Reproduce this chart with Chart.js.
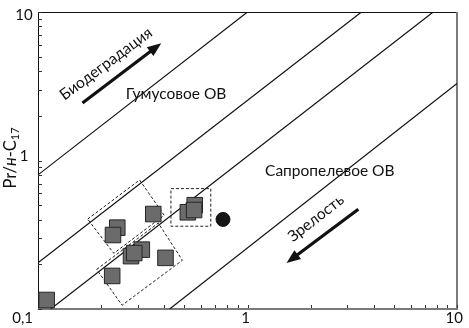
<!DOCTYPE html>
<html>
<head>
<meta charset="utf-8">
<script src="https://cdn.jsdelivr.net/npm/chart.js@4.4.0/dist/chart.umd.min.js"></script>
<style>
  html, body { margin:0; padding:0; background:#fff; }
  #wrap { width:469px; height:328px; }
</style>
</head>
<body>
<div id="wrap"><canvas id="myChart"></canvas></div>
<script>
// образцы: Ph/н-C18 (x) и Pr/н-C17 (y), порядок = порядок отрисовки
var obrX = [0.110, 0.226, 0.239, 0.228, 0.313, 0.278, 0.288, 0.406, 0.355, 0.519, 0.560, 0.556];
var obrY = [0.115, 0.167, 0.353, 0.315, 0.251, 0.227, 0.238, 0.221, 0.436, 0.448, 0.500, 0.464];
// отдельная точка (кружок)
var krugX = [0.764];
var krugY = [0.401];

// диагональные линии (концы)
var liniya1 = [[0.1, 0.80], [1.0, 10]];
var liniya2 = [[0.1, 0.205], [3.5, 10]];
var liniya3 = [[0.115, 0.1], [7.7, 10]];
var liniya4 = [[0.425, 0.1], [10, 3.3]];

// пунктирные рамки (углы)
var ramka1 = [[0.431, 0.647], [0.668, 0.647], [0.668, 0.361], [0.431, 0.361], [0.431, 0.647]];
var ramka2 = [[0.1726, 0.403], [0.3055, 0.739], [0.400, 0.428], [0.230, 0.237], [0.1726, 0.403]];
var ramka3 = [[0.1905, 0.1847], [0.375, 0.379], [0.489, 0.213], [0.252, 0.106], [0.1905, 0.1847]];

// подписи осей
var tickX = [0.1, 1, 10];
var tickXtxt = ['0,1', '1', '10'];
var tickY = [10, 1];
var tickYtxt = ['10', '1'];

function toPts(arr) {
    return arr.map(function(p){ return {x: p[0], y: p[1]}; });
}

var tochki = [];
for (var i = 0; i < obrX.length; i++) {
    tochki.push({x: obrX[i], y: obrY[i]});
}
var krug = [];
for (var j = 0; j < krugX.length; j++) {
    krug.push({x: krugX[j], y: krugY[j]});
}

function liniyaDs(arr) {
    return { type:'line', data: toPts(arr), borderColor:'#111', borderWidth:1.2, pointRadius:0, fill:false, tension:0, order:3, clip:0 };
}
function ramkaDs(arr) {
    return { type:'line', data: toPts(arr), borderColor:'#222', borderWidth:1, borderDash:[3,2], pointRadius:0, fill:false, tension:0, order:2 };
}

function strelka(ctx, x1, y1, x2, y2) {
    var a = Math.atan2(y2 - y1, x2 - x1);
    var dl = 14, w = 5.5;
    ctx.save();
    ctx.strokeStyle = '#111';
    ctx.fillStyle = '#111';
    ctx.lineWidth = 3.2;
    ctx.beginPath();
    ctx.moveTo(x1, y1);
    ctx.lineTo(x2 - dl * 0.8 * Math.cos(a), y2 - dl * 0.8 * Math.sin(a));
    ctx.stroke();
    ctx.beginPath();
    ctx.moveTo(x2, y2);
    ctx.lineTo(x2 - dl * Math.cos(a) + w * Math.sin(a), y2 - dl * Math.sin(a) - w * Math.cos(a));
    ctx.lineTo(x2 - dl * Math.cos(a) - w * Math.sin(a), y2 - dl * Math.sin(a) + w * Math.cos(a));
    ctx.closePath();
    ctx.fill();
    ctx.restore();
}

function tekst(ctx, s, x, y, ugol) {
    ctx.save();
    ctx.translate(x, y);
    ctx.rotate(ugol * Math.PI / 180);
    ctx.fillText(s, 0, 0);
    ctx.restore();
}

var risovanie = {
    id: 'risovanie',
    beforeDatasetsDraw: function(chart) {
        var ctx = chart.ctx, ca = chart.chartArea;
        var sx = chart.scales.x, sy = chart.scales.y;
        ctx.save();
        // рамка
        ctx.strokeStyle = '#111';
        ctx.lineWidth = 1;
        ctx.beginPath();
        ctx.moveTo(ca.left + 0.5, ca.bottom);
        ctx.lineTo(ca.left + 0.5, ca.top + 0.5);
        ctx.lineTo(ca.right, ca.top + 0.5);
        ctx.stroke();
        ctx.strokeStyle = '#7a7a7a';
        ctx.lineWidth = 2;
        ctx.beginPath();
        ctx.moveTo(ca.left, ca.bottom);
        ctx.lineTo(ca.right, ca.bottom);
        ctx.lineTo(ca.right, ca.top);
        ctx.stroke();
        // мелкие деления внутрь
        ctx.lineWidth = 1;
        ctx.strokeStyle = '#333';
        for (var d = 0.1; d < 10; d *= 10) {
            for (var m = 1; m <= 10; m++) {
                var v = d * m;
                var px = Math.round(sx.getPixelForValue(v)) + 0.5;
                var py = Math.round(sy.getPixelForValue(v)) + 0.5;
                ctx.beginPath();
                ctx.moveTo(px, ca.bottom - 1);
                ctx.lineTo(px, ca.bottom - 4);
                ctx.moveTo(ca.left, py);
                ctx.lineTo(ca.left + 4, py);
                ctx.stroke();
            }
        }
        ctx.restore();
    },
    afterDatasetsDraw: function(chart) {
        var ctx = chart.ctx;
        var sx = chart.scales.x, sy = chart.scales.y;
        function X(v){ return sx.getPixelForValue(v); }
        function Y(v){ return sy.getPixelForValue(v); }
        ctx.save();
        ctx.fillStyle = '#111';
        ctx.font = '15.5px Lato';
        ctx.textAlign = 'center';
        ctx.textBaseline = 'middle';
        tekst(ctx, 'Биодеградация', X(0.211), Y(4.48), -36.6);
        tekst(ctx, 'Гумусовое ОВ', X(0.456), Y(2.80), 0);
        tekst(ctx, 'Сапропелевое ОВ', X(2.47), Y(0.847), 0);
        tekst(ctx, 'Зрелость', X(2.12), Y(0.409), -38);
        strelka(ctx, X(0.163), Y(2.44), X(0.3875), Y(6.16));
        strelka(ctx, X(3.38), Y(0.469), X(1.535), Y(0.204));

        // подписи делений
        ctx.font = '15px Lato';
        ctx.textBaseline = 'middle';
        for (var i = 0; i < tickX.length; i++) {
            var px = X(tickX[i]);
            if (i === 0) { ctx.textAlign = 'right'; px -= 5; }
            else if (i === tickX.length - 1) { ctx.textAlign = 'right'; px += 6; }
            else { ctx.textAlign = 'center'; px -= 2; }
            ctx.fillText(tickXtxt[i], px, 318);
        }
        ctx.textAlign = 'center';
        for (var k = 0; k < tickY.length; k++) {
            var py = Y(tickY[k]);
            if (k === 0) py += 3; else py -= 4;
            ctx.fillText(tickYtxt[k], 24, py);
        }

        // заголовок оси Y: Pr/н-C17
        ctx.save();
        ctx.translate(16, 158);
        ctx.rotate(-Math.PI / 2);
        ctx.textAlign = 'left';
        ctx.textBaseline = 'alphabetic';
        var f1 = '16.5px Lato', f2 = 'italic 16.5px Lato', f3 = '11px Lato';
        ctx.font = f1; var w1 = ctx.measureText('Pr/').width;
        ctx.font = f2; var w2 = ctx.measureText('н').width;
        ctx.font = f1; var w3 = ctx.measureText('-C').width;
        ctx.font = f3; var w4 = ctx.measureText('17').width;
        var x0 = -(w1 + w2 + w3 + w4) / 2;
        ctx.font = f1; ctx.fillText('Pr/', x0, 0);
        ctx.font = f2; ctx.fillText('н', x0 + w1, 0);
        ctx.font = f1; ctx.fillText('-C', x0 + w1 + w2, 0);
        ctx.font = f3; ctx.fillText('17', x0 + w1 + w2 + w3, 3);
        ctx.restore();

        ctx.restore();
    }
};

var ctxG = document.getElementById('myChart');
var grafik = new Chart(ctxG, {
    type: 'scatter',
    data: {
        datasets: [
            { data: tochki, pointStyle:'rect', pointRadius:11, pointHoverRadius:11,
              backgroundColor:'#6b6b6b', borderColor:'#262626', borderWidth:1, order:0, clip:false },
            { data: krug, pointStyle:'circle', pointRadius:7, pointHoverRadius:7,
              backgroundColor:'#151515', borderColor:'#151515', borderWidth:1, order:0, clip:false },
            ramkaDs(ramka1),
            ramkaDs(ramka2),
            ramkaDs(ramka3),
            liniyaDs(liniya1),
            liniyaDs(liniya2),
            liniyaDs(liniya3),
            liniyaDs(liniya4)
        ]
    },
    options: {
        responsive: true,
        maintainAspectRatio: false,
        animation: false,
        events: [],
        layout: { padding: { top:5, right:6, left:0, bottom:0 } },
        plugins: { legend:{display:false}, tooltip:{enabled:false}, title:{display:false} },
        scales: {
            x: { type:'logarithmic', min:0.1, max:10,
                 grid:{display:false}, border:{display:false}, ticks:{display:false},
                 afterFit: function(s){ s.height = 19; } },
            y: { type:'logarithmic', min:0.1, max:10,
                 grid:{display:false}, border:{display:false}, ticks:{display:false},
                 afterFit: function(s){ s.width = 38; } }
        }
    },
    plugins: [risovanie]
});
</script>
</body>
</html>
